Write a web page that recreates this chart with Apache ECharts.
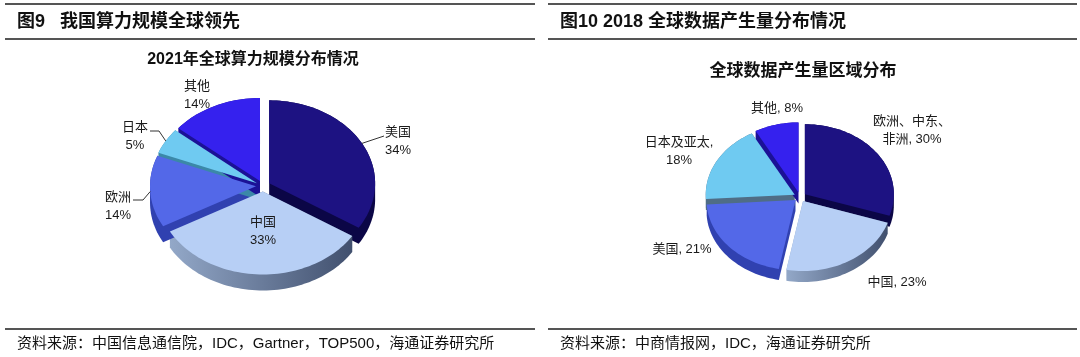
<!DOCTYPE html>
<html><head><meta charset="utf-8">
<script src="https://cdn.jsdelivr.net/npm/echarts@6/dist/echarts.min.js"></script>
<style>html,body{margin:0;padding:0;background:#fff}#c{width:1080px;height:357px}</style>
</head><body><div id="c"></div>
<script>
// ---- data ----
const leftCategories = ['美国', '中国', '欧洲', '日本', '其他'];
const leftValues = [34, 33, 14, 5, 14];
const rightCategories = ['欧洲、中东、非洲', '中国', '美国', '日本及亚太', '其他'];
const rightValues = [30, 23, 21, 18, 8];
const rightLabelNames = ['欧洲、中东、\n非洲, ', '中国, ', '美国, ', '日本及亚太,\n', '其他, '];

// ---- layout / style (not data) ----
const FONT = '"Liberation Sans", "Noto Sans CJK SC", sans-serif';
const leftLayout = {cx: 263, cy: 186, rx: 106, ry: 83, depth: 16, explode: 7};
const rightLayout = {cx: 800, cy: 197, rx: 89, ry: 70, depth: 11, explode: 6};
const topColors = ['#1d1282', '#b7cff5', '#5368e8', '#6fcaf1', '#3521ee'];
const leftSide = ['#0b0646', ['#93a8c8', '#41506e'], '#3041b0', '#3b88a8', '#1b1196'];
const rightSide = ['#0b0646', ['#93a8c8', '#41506e'], '#3041b0', '#4f6d86', '#1b1196'];
const leftLabelPos = [[398, 141], [263, 231], [118, 206], [135, 136], [197, 95]];
const rightLabelPos = [[912, 130], [897, 282], [682, 249], [679, 151], [777, 108]];
// leader: [elbow..., end] ; start is the rim at the slice's mid angle
const leftLeaders = [[[384, 136]], null, [[143, 200], [133, 200]], [[159, 131], [150, 131]], null];

function angles(values) {
  const total = values.reduce((a, b) => a + b, 0);
  let acc = 0;
  return values.map(v => { const a0 = acc / total * 360; acc += v; const a1 = acc / total * 360; return {a0, a1, am: (a0 + a1) / 2}; });
}
function ellPt(L, ox, oy, deg) {
  const r = deg * Math.PI / 180;
  return [L.cx + ox + L.rx * Math.sin(r), L.cy + oy - L.ry * Math.cos(r)];
}
function slicePoly(L, a) {
  const m = a.am * Math.PI / 180;
  const ox = L.explode * Math.sin(m), oy = -L.explode * Math.cos(m) * L.ry / L.rx;
  const pts = [[L.cx + ox, L.cy + oy]];
  const n = Math.max(2, Math.ceil((a.a1 - a.a0) / 2));
  for (let k = 0; k <= n; k++) pts.push(ellPt(L, ox, oy, a.a0 + (a.a1 - a.a0) * k / n));
  return {pts, ox, oy};
}
function hull(P) {
  const p = P.slice().sort((a, b) => a[0] - b[0] || a[1] - b[1]);
  const cross = (o, a, b) => (a[0] - o[0]) * (b[1] - o[1]) - (a[1] - o[1]) * (b[0] - o[0]);
  const lo = [], up = [];
  for (const q of p) { while (lo.length >= 2 && cross(lo[lo.length - 2], lo[lo.length - 1], q) <= 0) lo.pop(); lo.push(q); }
  for (let i = p.length - 1; i >= 0; i--) { const q = p[i]; while (up.length >= 2 && cross(up[up.length - 2], up[up.length - 1], q) <= 0) up.pop(); up.push(q); }
  up.pop(); lo.pop();
  return lo.concat(up);
}
function fillOf(c) {
  if (Array.isArray(c)) return new echarts.graphic.LinearGradient(0, 0, 1, 0, [{offset: 0, color: c[0]}, {offset: 1, color: c[1]}]);
  return c;
}

function sideSeries(values, cats, L, sides) {
  const ang = angles(values);
  return {
    type: 'custom', coordinateSystem: 'none', silent: true, z: 1,
    data: values.map((v, i) => ({value: v, name: cats[i]})),
    renderItem: (params, api) => {
      const i = params.dataIndex;
      const {pts} = slicePoly(L, ang[i]);
      const ext = pts.concat(pts.map(p => [p[0], p[1] + L.depth]));
      return {type: 'polygon', shape: {points: hull(ext)}, style: {fill: fillOf(sides[i])}};
    }
  };
}
function topSeries(values, cats, L, labelText, labelPos, leaders) {
  const ang = angles(values);
  return {
    type: 'custom', coordinateSystem: 'none', silent: true, z: 2,
    data: values.map((v, i) => ({value: v, name: cats[i]})),
    renderItem: (params, api) => {
      const i = params.dataIndex;
      const {pts, ox, oy} = slicePoly(L, ang[i]);
      const children = [{type: 'polygon', shape: {points: pts}, style: {fill: topColors[i]}}];
      if (leaders && leaders[i]) {
        const start = ellPt(L, ox, oy, ang[i].am);
        children.push({type: 'polyline', shape: {points: [start].concat(leaders[i])}, style: {stroke: '#333', lineWidth: 1, fill: null}});
      }
      children.push({type: 'text', style: {text: labelText(i, api.value(0)), x: labelPos[i][0], y: labelPos[i][1],
        fill: '#1a1a1a', fontSize: 13, fontFamily: FONT, align: 'center', verticalAlign: 'middle', lineHeight: 18}});
      return {type: 'group', children};
    }
  };
}

function txt(text, x, y, size, weight, align) {
  return {type: 'text', silent: true, style: {text, x, y, fill: '#111', fontSize: size, fontWeight: weight, fontFamily: FONT, align: align || 'left', verticalAlign: 'middle'}};
}
function hline(x1, x2, y) {
  return {type: 'line', silent: true, shape: {x1, y1: y, x2, y2: y}, style: {stroke: '#555', lineWidth: 2}};
}

const chart = echarts.init(document.getElementById('c'));
chart.setOption({
  animation: false,
  backgroundColor: '#fff',
  graphic: [
    hline(5, 535, 4), hline(5, 535, 39), hline(5, 535, 329),
    hline(548, 1077, 4), hline(548, 1077, 39), hline(548, 1077, 329),
    txt('图9   我国算力规模全球领先', 17, 22, 18, 'bold'),
    txt('图10 2018 全球数据产生量分布情况', 560, 22, 18, 'bold'),
    txt('2021年全球算力规模分布情况', 253, 60, 16, 'bold', 'center'),
    txt('全球数据产生量区域分布', 803, 71, 17, 'bold', 'center'),
    txt('资料来源：中国信息通信院，IDC，Gartner，TOP500，海通证券研究所', 17, 344, 15, 'normal'),
    txt('资料来源：中商情报网，IDC，海通证券研究所', 560, 344, 15, 'normal')
  ],
  series: [
    sideSeries(leftValues, leftCategories, leftLayout, leftSide),
    sideSeries(rightValues, rightCategories, rightLayout, rightSide),
    topSeries(leftValues, leftCategories, leftLayout, (i, v) => leftCategories[i] + '\n' + v + '%', leftLabelPos, leftLeaders),
    topSeries(rightValues, rightCategories, rightLayout, (i, v) => rightLabelNames[i] + v + '%', rightLabelPos, null)
  ]
});
</script>
</body></html>
